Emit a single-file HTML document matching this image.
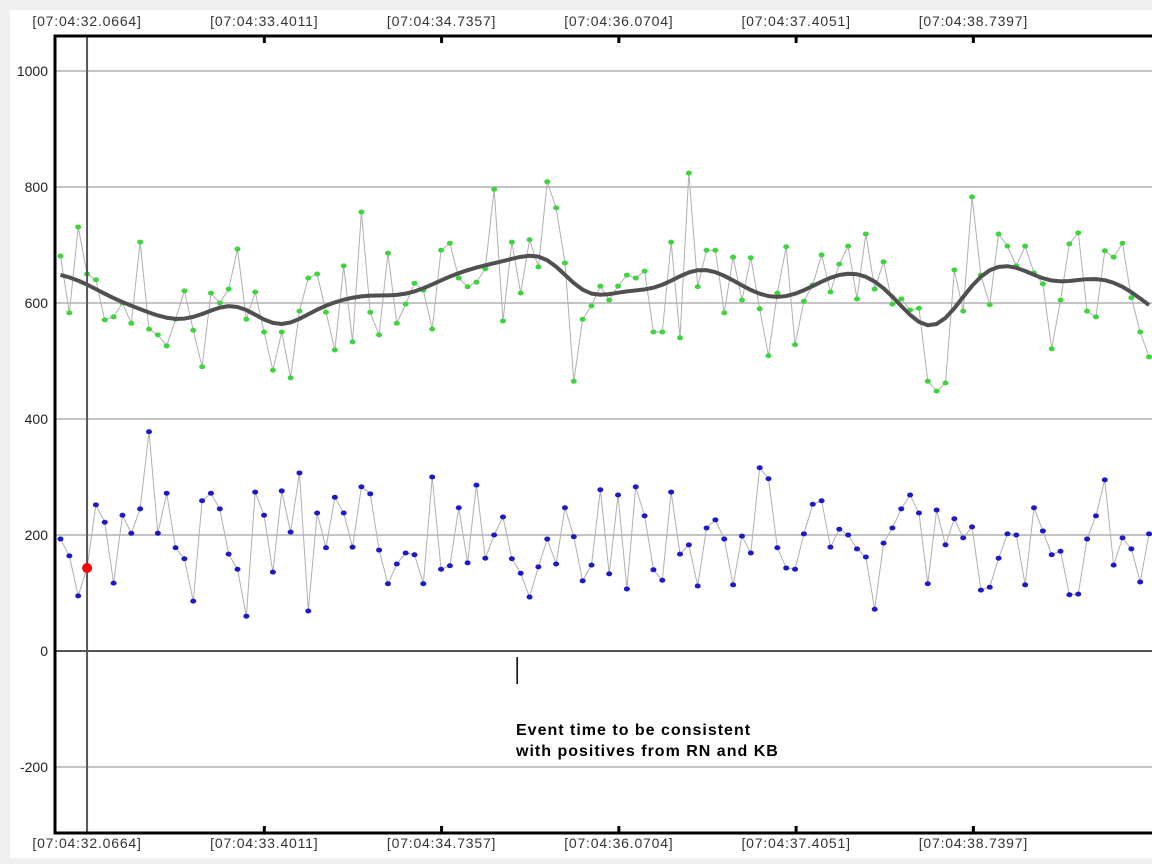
<!DOCTYPE html>
<html><head><meta charset="utf-8">
<style>
html,body{margin:0;padding:0;background:#efefef;}
body{width:1152px;height:864px;overflow:hidden;font-family:"Liberation Sans",sans-serif;}
#panel{position:absolute;left:10px;top:10px;width:1142px;height:848px;background:#fff;}
svg{position:absolute;left:0;top:0;}
</style></head>
<body>
<div id="panel"></div>
<svg id="chart" width="1152" height="864"></svg>
<script>
const greenValues=[681,583,731,650,640,571,576,600,565,705,555,545,526,572,621,553,490,617,600,624,693,572,619,550,484,550,471,586,643,650,584,
519,664,533,757,584,545,686,565,598,634,622,555,691,703,643,628,636,659,796,569,705,617,709,662,809,764,669,465,572,595,629,
605,629,648,643,655,550,550,705,540,824,628,691,691,583,679,605,678,590,509,617,697,528,603,631,683,619,667,698,607,719,
624,671,598,607,588,591,465,448,462,657,586,783,648,597,719,698,664,698,652,633,521,605,702,721,586,576,690,679,703,609,550,507];
const blueValues=[193,164,95,143,252,222,117,234,203,245,378,203,272,178,159,86,259,272,245,167,141,60,274,234,136,276,205,307,69,238,178,
265,238,179,283,271,174,116,150,169,166,116,300,141,147,247,152,286,160,200,231,159,134,93,145,193,150,247,197,121,148,278,
133,269,107,283,233,140,122,274,167,183,112,212,226,193,114,198,169,316,297,178,143,141,202,253,259,179,210,200,176,162,
72,186,212,245,269,238,116,243,183,228,195,214,105,110,160,202,200,114,247,207,166,172,97,98,193,233,295,148,195,176,119,202];
const yTicks=[1000,800,600,400,200,0,-200];
const xTickLabels=["[07:04:32.0664]","[07:04:33.4011]","[07:04:34.7357]","[07:04:36.0704]","[07:04:37.4051]","[07:04:38.7397]"];
const xTickIndex=[3,23.03,43.06,63.09,83.12,103.15];
const cursorIndex=3;
const eventIndex=51.6;

const NS="http://www.w3.org/2000/svg";
const svg=document.getElementById('chart');
const L=55,R=1152,T=36,B=833;
function X(i){return 60.5+i*8.85;}
function Y(v){return 651-v*0.58;}
function el(tag,attrs,parent){const e=document.createElementNS(NS,tag);for(const k in attrs)e.setAttribute(k,attrs[k]);(parent||svg).appendChild(e);return e;}

yTicks.forEach(v=>{
  const g=el('line',{x1:L,x2:R,y1:Y(v),y2:Y(v),stroke:v===0?'#555':'#c4c4c4','stroke-width':2});
  
  
  const t=el('text',{x:48,y:Y(v)+5,'text-anchor':'end','font-size':14,fill:'#222'});
  t.textContent=v;
  
  
});
xTickLabels.forEach((s,k)=>{
  const x=X(xTickIndex[k]);
  [26,848].forEach(yy=>{
    const t=el('text',{x:x,y:yy,'text-anchor':'middle','font-size':14,'letter-spacing':0.8,fill:'#333'});
    t.textContent=s;
    
    
  });
  if(k>0){
    const m1=el('line',{x1:x,x2:x,y1:T,y2:T+7,stroke:'#000','stroke-width':3});
    
    
    const m2=el('line',{x1:x,x2:x,y1:B-7,y2:B,stroke:'#000','stroke-width':3});
    
    
  }
});
const sm=greenValues.map((_,i)=>{let s=0,w=0;for(let j=-10;j<=10;j++){const k=i+j;if(k<0||k>=greenValues.length)continue;const ww=Math.exp(-j*j/(2*3*3));s+=greenValues[k]*ww;w+=ww;}return s/w;});
function poly(vals,name){const p=el('polyline',{points:vals.map((v,i)=>X(i)+','+Y(v)).join(' '),fill:'none',stroke:'#b0b0b0','stroke-width':1});}
poly(greenValues,'green-series-line');
poly(blueValues,'blue-series-line');
greenValues.forEach((v,i)=>{const c=el('ellipse',{cx:X(i),cy:Y(v),rx:3,ry:2.5,fill:'#3ed43e'});});
blueValues.forEach((v,i)=>{const c=el('ellipse',{cx:X(i),cy:Y(v),rx:3,ry:2.5,fill:'#1a1ac8'});});
const tr=el('polyline',{points:sm.map((v,i)=>X(i)+','+Y(v)).join(' '),fill:'none',stroke:'#505050','stroke-width':4,'stroke-linejoin':'round'});


const cx=X(cursorIndex);
const cur=el('line',{x1:cx,x2:cx,y1:T,y2:B,stroke:'#555','stroke-width':2});


const rp=el('circle',{cx:cx,cy:Y(blueValues[cursorIndex]),r:5,fill:'#f00'});


const fr=el('path',{d:`M${R+2},${T} H${L} V${B} H${R+2}`,fill:'none',stroke:'#000','stroke-width':3});


const ex=X(eventIndex);
const al=el('line',{x1:ex,x2:ex,y1:657,y2:684,stroke:'#000','stroke-width':1.5});


['Event time to be consistent','with positives from RN and KB'].forEach((s,k)=>{
  const t=el('text',{x:516,y:735+k*21,'font-size':16,'font-weight':'bold','letter-spacing':1,fill:'#000'});
  t.textContent=s;
  
  
});
</script>
</body></html>
